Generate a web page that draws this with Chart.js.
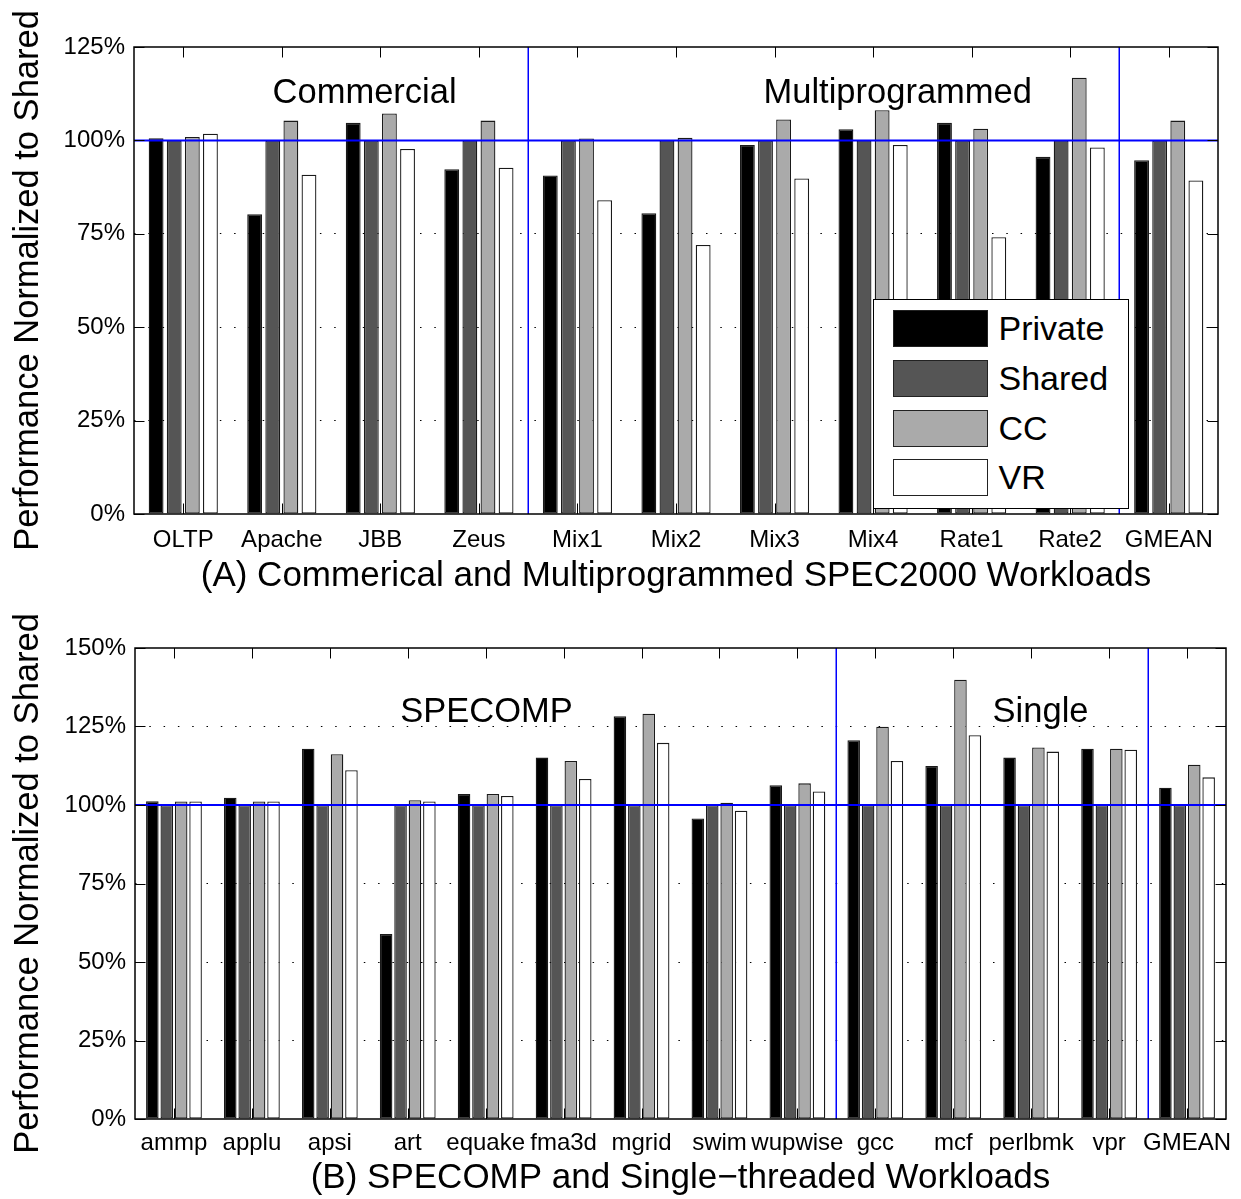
<!DOCTYPE html>
<html>
<head>
<meta charset="utf-8">
<title>Performance Normalized to Shared</title>
<script src="https://cdn.jsdelivr.net/npm/chart.js@4.4.1/dist/chart.umd.min.js"></script>
<style>
  html, body { margin: 0; padding: 0; background: #fff; overflow: hidden; }
  #wrap { position: relative; width: 1241px; height: 1199px; }
  .panel { position: absolute; left: 0; width: 1241px; }
  canvas { display: block; }
  .legend {
    position: absolute; box-sizing: border-box; background: #fff;
    border: 1.5px solid #000; font-family: "Liberation Sans", Arial, sans-serif;
    font-size: 34px; color: #000;
  }
  .legend .row { position: absolute; height: 37px; }
  .legend .swatch { position: absolute; left: 0; top: 0; width: 95px; height: 37px;
    box-sizing: border-box; border: 1.2px solid #222; }
  .legend .name { position: absolute; top: 0; line-height: 37px; white-space: nowrap; }
</style>
</head>
<body>
<div id="wrap">
  <div class="panel" style="top:0;height:600px">
    <canvas id="chartA" width="1241" height="600"></canvas>
    <div id="legendA" class="legend" style="left:873px;top:299px;width:256px;height:210px"></div>
  </div>
  <div class="panel" style="top:600px;height:599px">
    <canvas id="chartB" width="1241" height="599"></canvas>
  </div>
</div>
<script>
// ---- data -------------------------------------------------------------
const seriesNames = ['Private', 'Shared', 'CC', 'VR'];

// (A) commercial and multiprogrammed workloads
const workloadsA = ['OLTP', 'Apache', 'JBB', 'Zeus', 'Mix1', 'Mix2', 'Mix3', 'Mix4', 'Rate1', 'Rate2', 'GMEAN'];
const privateA = [100.6, 80.2, 104.7, 92.3, 90.6, 80.5, 98.8, 103.0, 104.7, 95.6, 94.7];
const sharedA  = [100, 100, 100, 100, 100, 100, 100, 100, 100, 100, 100];
const ccA      = [100.9, 105.3, 107.2, 105.3, 100.5, 100.7, 105.6, 108.1, 103.1, 116.8, 105.3];
const vrA      = [101.8, 90.8, 97.7, 92.7, 84.0, 72.0, 89.8, 98.8, 74.1, 98.1, 89.3];
const yTicksA  = [0, 25, 50, 75, 100, 125];
const groupsA  = ['Commercial', 'Multiprogrammed'];
const captionA = '(A) Commerical and Multiprogrammed SPEC2000 Workloads';

// (B) SPECOMP and single-threaded workloads
const workloadsB = ['ammp', 'applu', 'apsi', 'art', 'equake', 'fma3d', 'mgrid', 'swim', 'wupwise', 'gcc', 'mcf', 'perlbmk', 'vpr', 'GMEAN'];
const privateB = [101.2, 102.3, 117.9, 58.9, 103.5, 115.1, 128.3, 95.7, 106.3, 120.6, 112.4, 115.1, 117.9, 105.5];
const sharedB  = [100, 100, 100, 100, 100, 100, 100, 100, 100, 100, 100, 100, 100, 100];
const ccB      = [101.1, 101.1, 116.2, 101.5, 103.5, 114.0, 129.1, 100.7, 106.9, 124.9, 139.9, 118.3, 117.9, 112.8];
const vrB      = [101.1, 101.1, 111.1, 101.1, 102.9, 108.3, 119.8, 98.2, 104.3, 114.0, 122.2, 117.0, 117.6, 108.8];
const yTicksB  = [0, 25, 50, 75, 100, 125, 150];
const groupsB  = ['SPECOMP', 'Single'];
const captionB = '(B) SPECOMP and Single\u2212threaded Workloads';

const yTitle = 'Performance Normalized to Shared';

// ---- styling ----------------------------------------------------------
const FONT = '"Liberation Sans", Arial, Helvetica, sans-serif';
const barColors = ['#000000', '#555555', '#aaaaaa', '#ffffff'];
const baseline = 100;

// Frame, inward ticks, baseline, group dividers and group titles
const decorPlugin = {
  id: 'decor',
  afterDatasetsDraw(chart, args, opts) {
    const { ctx, chartArea: a, scales: { x, y } } = chart;
    ctx.save();
    // dividers between workload groups
    ctx.strokeStyle = '#0000ff';
    ctx.lineWidth = 1.5;
    opts.dividers.forEach(d => {
      const px = Math.round(x.getPixelForValue(d)) + 0.25;
      ctx.beginPath(); ctx.moveTo(px, a.top); ctx.lineTo(px, a.bottom); ctx.stroke();
    });
    // 100% reference line
    const by = y.getPixelForValue(baseline);
    ctx.lineWidth = 2;
    ctx.beginPath(); ctx.moveTo(a.left, by); ctx.lineTo(a.right, by); ctx.stroke();

    // inward ticks
    ctx.strokeStyle = '#000';
    ctx.lineWidth = 1;
    const tl = 10.5;
    chart.data.labels.forEach((_, i) => {
      const px = Math.round(x.getPixelForValue(i)) + 0.5;
      ctx.beginPath();
      ctx.moveTo(px, a.top); ctx.lineTo(px, a.top + tl);
      ctx.moveTo(px, a.bottom); ctx.lineTo(px, a.bottom - tl);
      ctx.stroke();
    });
    y.ticks.forEach(t => {
      const py = Math.round(y.getPixelForValue(t.value)) + 0.5;
      ctx.beginPath();
      ctx.moveTo(a.left, py); ctx.lineTo(a.left + tl, py);
      ctx.moveTo(a.right, py); ctx.lineTo(a.right - tl, py);
      ctx.stroke();
    });

    // plot frame
    ctx.lineWidth = 1.5;
    ctx.strokeRect(a.left, a.top, a.right - a.left, a.bottom - a.top);

    // group titles
    ctx.fillStyle = '#000';
    ctx.font = '34.5px ' + FONT;
    ctx.textAlign = 'center';
    ctx.textBaseline = 'middle';
    opts.groups.forEach(g => {
      ctx.fillText(g.text, x.getPixelForValue(g.at), y.getPixelForValue(g.level));
    });
    ctx.restore();
  }
};

function makeChart(canvasId, cfg) {
  const values = cfg.series;
  return new Chart(document.getElementById(canvasId), {
    type: 'bar',
    data: {
      labels: cfg.labels,
      datasets: seriesNames.map((name, i) => ({
        label: name,
        data: values[i],
        backgroundColor: barColors[i],
        borderColor: '#1a1a1a',
        borderWidth: 1.3,
        borderSkipped: false,
        categoryPercentage: cfg.catPct,
        barPercentage: cfg.barPct
      }))
    },
    plugins: [decorPlugin],
    options: {
      responsive: false,
      animation: false,
      devicePixelRatio: 1,
      layout: { padding: { left: 0, right: cfg.padRight, top: cfg.padTop, bottom: 0 } },
      plugins: {
        legend: { display: false },
        tooltip: { enabled: false },
        decor: { dividers: cfg.dividers, groups: cfg.groups }
      },
      scales: {
        x: {
          grid: { display: false },
          border: { display: false },
          ticks: {
            autoSkip: false, maxRotation: 0, minRotation: 0,
            padding: cfg.xPad, color: '#000',
            font: { family: FONT, size: 24 }
          },
          title: {
            display: true, text: cfg.caption, color: '#000',
            font: { family: FONT, size: 35 },
            padding: { top: 0, bottom: cfg.capPad }
          },
          afterFit(s) { s.height = cfg.xHeight; s.paddingLeft = 0; s.paddingRight = 0; }
        },
        y: {
          min: 0,
          max: cfg.yTicks[cfg.yTicks.length - 1],
          afterBuildTicks(s) { s.ticks = cfg.yTicks.map(v => ({ value: v })); },
          ticks: {
            padding: 9, color: '#000',
            font: { family: FONT, size: 24 },
            callback: v => v + '%'
          },
          grid: {
            drawTicks: false,
            lineWidth: 1,
            color: c => {
              const v = c.tick ? c.tick.value : 0;
              return (v === 0 || v === baseline || v === cfg.yTicks[cfg.yTicks.length - 1]) ? 'rgba(0,0,0,0)' : '#000';
            }
          },
          border: { display: false, dash: [1.5, 12.8] },
          title: {
            display: true, text: yTitle, color: '#000',
            font: { family: FONT, size: 34.5 },
            padding: { top: 8, bottom: 0 }
          },
          afterFit(s) { s.width = cfg.yWidth; }
        }
      }
    }
  });
}

const chartA = makeChart('chartA', {
  labels: workloadsA,
  series: [privateA, sharedA, ccA, vrA],
  yTicks: yTicksA,
  caption: captionA,
  catPct: 0.735, barPct: 0.82,
  padTop: 47, padRight: 23, yWidth: 134, xHeight: 86, xPad: 4, capPad: 3,
  dividers: [3.5, 9.5],
  groups: [
    { text: groupsA[0], at: 1.84, level: 112.5 },
    { text: groupsA[1], at: 7.25, level: 112.5 }
  ]
});

const chartB = makeChart('chartB', {
  labels: workloadsB,
  series: [privateB, sharedB, ccB, vrB],
  yTicks: yTicksB,
  caption: captionB,
  catPct: 0.74, barPct: 0.87,
  padTop: 48, padRight: 15, yWidth: 135, xHeight: 80, xPad: 2, capPad: 0,
  dividers: [8.5, 12.5],
  groups: [
    { text: groupsB[0], at: 4.01, level: 129.5 },
    { text: groupsB[1], at: 11.12, level: 129.5 }
  ]
});

// Legend for panel (A), built from the chart's own datasets
(function buildLegend(chart, el) {
  chart.data.datasets.forEach((ds, i) => {
    const row = document.createElement('div');
    row.className = 'row';
    row.style.left = '18.5px';
    row.style.top = (10.2 + i * 49.7) + 'px';
    row.style.width = '230px';
    const sw = document.createElement('div');
    sw.className = 'swatch';
    sw.style.background = ds.backgroundColor;
    const nm = document.createElement('span');
    nm.className = 'name';
    nm.style.left = '106px';
    nm.textContent = ds.label;
    row.appendChild(sw); row.appendChild(nm);
    el.appendChild(row);
  });
})(chartA, document.getElementById('legendA'));
</script>
</body>
</html>
